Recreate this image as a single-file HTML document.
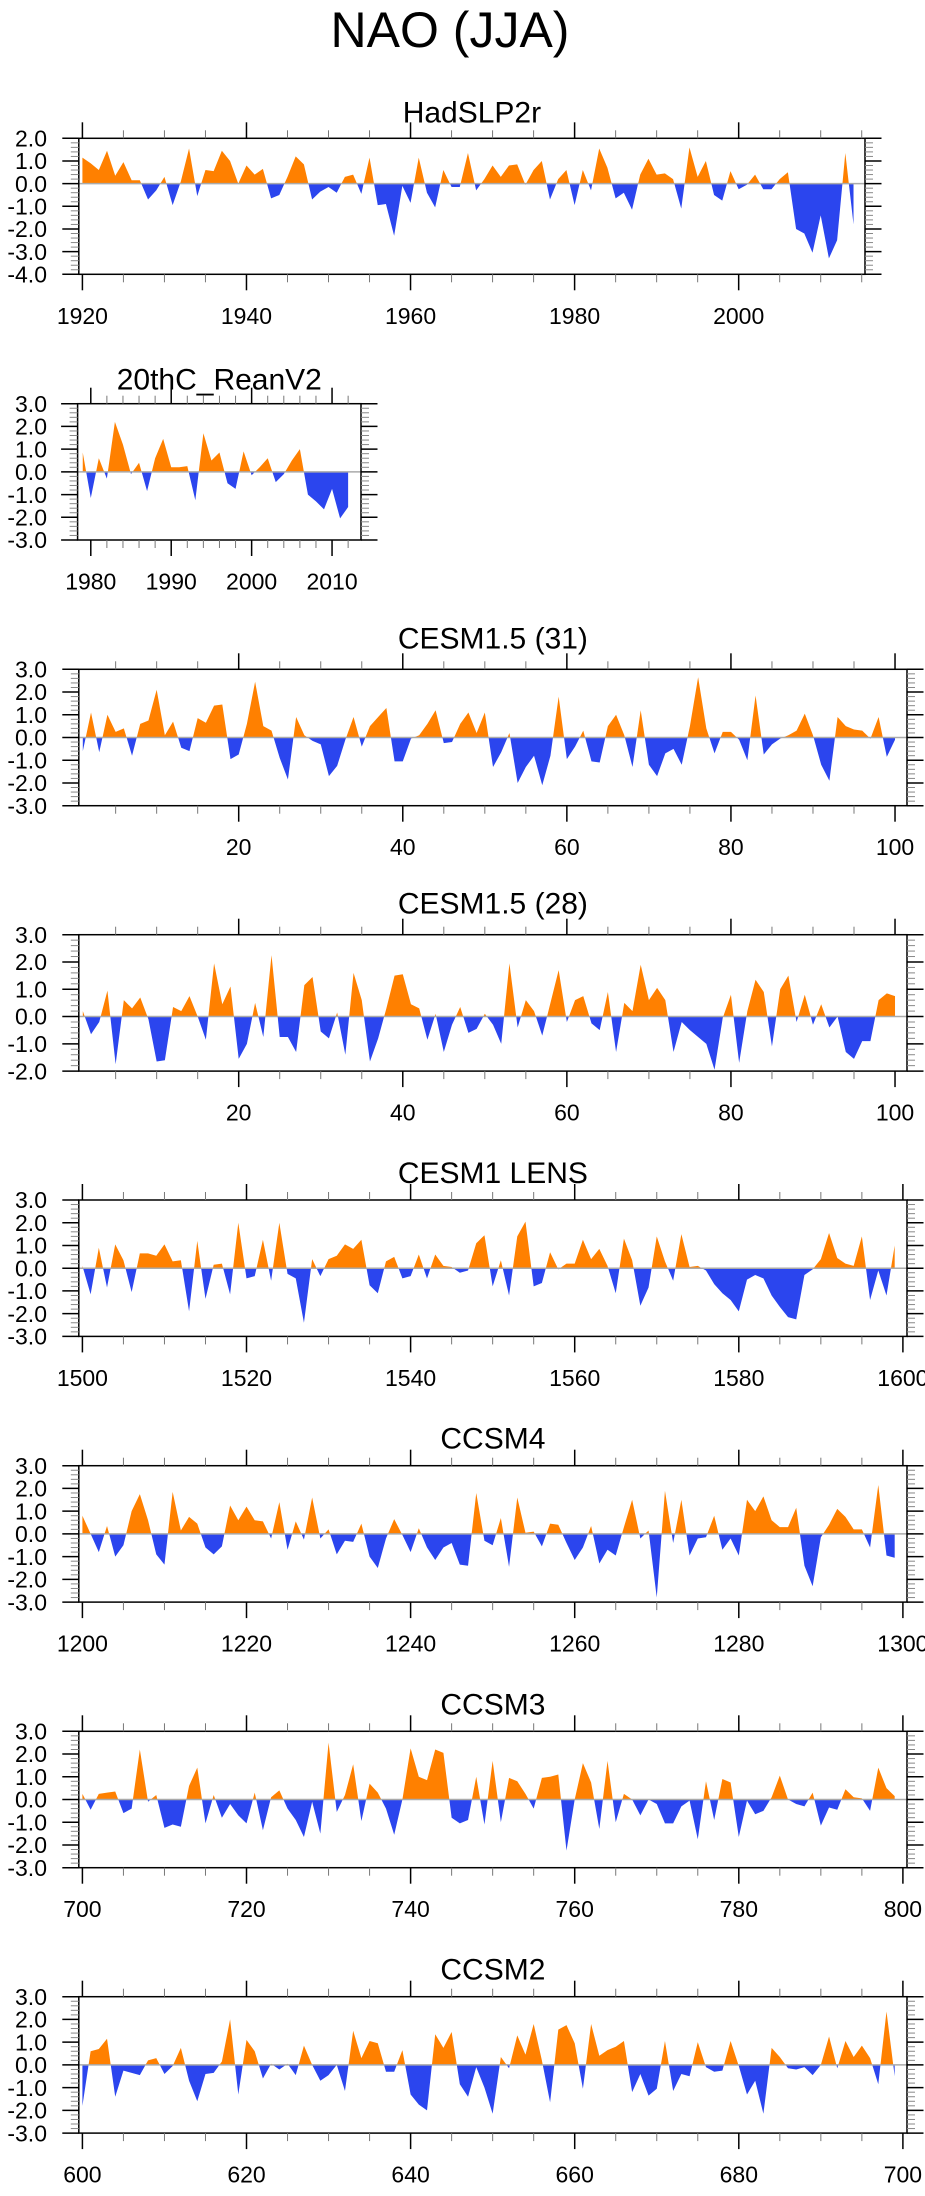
<!DOCTYPE html>
<html><head><meta charset="utf-8"><style>
html,body{margin:0;padding:0;background:#fff;}
svg text{font-family:"Liberation Sans",sans-serif;fill:#000;}
</style></head><body>
<svg id="fig" width="925" height="2191" viewBox="0 0 925 2191" xmlns="http://www.w3.org/2000/svg">
<text x="450" y="47" font-size="50" text-anchor="middle">NAO (JJA)</text>
</svg>
<script>
// ---- data ----
const hadYears0 = 1920;
const hadVals = [1.15,0.9,0.6,1.45,0.35,0.95,0.15,0.15,-0.7,-0.3,
0.3,-0.95,0.1,1.55,-0.55,0.6,0.55,1.45,1.0,0.0,
0.8,0.4,0.65,-0.65,-0.5,0.3,1.2,0.85,-0.7,-0.35,
-0.15,-0.4,0.3,0.4,-0.45,1.15,-0.95,-0.9,-2.3,-0.1,
-0.85,1.15,-0.4,-1.05,0.6,-0.15,-0.15,1.35,-0.3,0.2,
0.8,0.3,0.8,0.85,-0.05,0.6,1.0,-0.7,0.2,0.6,
-0.95,0.6,-0.3,1.55,0.7,-0.65,-0.4,-1.15,0.4,1.1,
0.4,0.45,0.2,-1.1,1.6,0.3,1.0,-0.5,-0.75,0.55,
-0.25,-0.05,0.4,-0.25,-0.25,0.2,0.5,-2.0,-2.2,-3.05,
-1.4,-3.3,-2.5,1.35,-1.8];
const reanYears0 = 1979;
const reanVals = [0.85,-1.15,0.6,-0.3,2.2,1.2,-0.1,0.4,-0.85,0.6,1.45,0.2,0.2,0.25,-1.25,1.7,0.5,0.85,-0.5,-0.75,0.9,-0.15,0.2,0.6,-0.45,-0.1,0.5,1.0,-1.0,-1.3,-1.65,-0.75,-2.05,-1.55];
const cesm31Start = 1;
const cesm31Vals = [-0.6,1.1,-0.65,1.0,0.25,0.4,-0.8,0.6,0.75,2.1,
0.1,0.7,-0.45,-0.6,0.85,0.65,1.4,1.45,-0.95,-0.75,
0.6,2.45,0.5,0.3,-0.9,-1.85,0.9,0.1,-0.15,-0.3,
-1.7,-1.25,-0.1,0.9,-0.4,0.5,0.9,1.3,-1.05,-1.05,
-0.05,0.1,0.6,1.2,-0.25,-0.2,0.6,1.1,0.2,1.1,
-1.3,-0.65,0.2,-2.0,-1.3,-0.8,-2.1,-0.8,1.8,-0.95,
-0.4,0.3,-1.05,-1.1,0.5,1.0,0.1,-1.3,1.2,-1.2,
-1.7,-0.7,-0.5,-1.2,0.5,2.65,0.4,-0.7,0.25,0.25,
-0.1,-1.0,1.85,-0.75,-0.3,-0.05,0.1,0.3,1.05,0.1,
-1.2,-1.9,0.9,0.5,0.35,0.3,-0.05,0.9,-0.85,-0.1];
const cesm28Start = 1;
const cesm28Vals = [0.2,-0.65,-0.2,0.95,-1.75,0.6,0.3,0.7,-0.1,-1.65,
-1.6,0.35,0.2,0.75,0.0,-0.85,1.95,0.45,1.1,-1.55,
-1.0,0.5,-0.75,2.25,-0.75,-0.75,-1.3,1.15,1.45,-0.55,
-0.8,0.15,-1.4,1.6,0.6,-1.65,-0.8,0.3,1.5,1.55,
0.45,0.3,-0.85,0.1,-1.3,-0.3,0.35,-0.6,-0.45,0.1,
-0.3,-1.0,1.95,-0.4,0.6,0.2,-0.7,0.5,1.7,-0.2,
0.6,0.75,-0.25,-0.5,0.9,-1.3,0.5,0.2,1.9,0.6,
1.05,0.6,-1.3,-0.2,-0.5,-0.75,-1.0,-1.95,-0.05,0.8,
-1.7,0.2,1.35,0.9,-1.1,1.0,1.5,-0.2,0.8,-0.3,
0.45,-0.4,0.0,-1.3,-1.55,-0.9,-0.9,0.6,0.85,0.75];
const lensStart = 1500;
const lensVals = [0.1,-1.15,0.9,-0.85,1.05,0.35,-1.05,0.65,0.65,0.55,
1.05,0.3,0.35,-1.9,1.2,-1.35,0.15,0.2,-1.15,2.0,
-0.45,-0.35,1.25,-0.55,2.0,-0.25,-0.45,-2.4,0.4,-0.35,
0.4,0.55,1.05,0.85,1.25,-0.75,-1.1,0.3,0.5,-0.45,
-0.35,0.6,-0.45,0.6,0.1,0.05,-0.2,-0.1,1.1,1.45,
-0.8,0.35,-1.2,1.4,2.05,-0.8,-0.65,0.7,-0.05,0.2,
0.2,1.25,0.4,0.85,0.1,-1.1,1.3,0.35,-1.65,-0.85,
1.4,0.3,-0.55,1.5,0.05,0.1,-0.1,-0.7,-1.1,-1.4,
-1.9,-0.5,-0.3,-0.45,-1.2,-1.7,-2.15,-2.25,-0.3,-0.05,
0.4,1.55,0.45,0.2,0.1,1.4,-1.4,-0.1,-1.2,1.0];
const ccsm4Start = 1200;
const ccsm4Vals = [0.8,0.0,-0.8,0.35,-1.0,-0.5,1.0,1.75,0.6,-0.9,
-1.35,1.85,0.15,0.75,0.45,-0.6,-0.9,-0.55,1.25,0.6,
1.2,0.6,0.55,-0.2,1.4,-0.7,0.55,-0.25,1.6,-0.2,
0.2,-0.9,-0.3,-0.35,0.45,-1.0,-1.5,-0.2,0.65,-0.05,
-0.8,0.25,-0.6,-1.15,-0.6,-0.4,-1.35,-1.4,1.8,-0.3,
-0.5,0.7,-1.45,1.6,0.05,0.1,-0.55,0.45,0.4,-0.4,
-1.15,-0.6,0.35,-1.3,-0.7,-0.95,0.3,1.5,-0.2,0.15,
-2.8,1.9,-0.4,1.5,-0.95,-0.2,-0.15,0.8,-0.7,-0.2,
-0.95,1.5,1.0,1.65,0.6,0.3,0.3,1.15,-1.4,-2.3,
-0.15,0.4,1.1,0.75,0.2,0.2,-0.6,2.15,-0.95,-1.05];
const ccsm3Start = 700;
const ccsm3Vals = [0.25,-0.45,0.25,0.3,0.35,-0.6,-0.4,2.2,-0.1,0.2,
-1.25,-1.1,-1.2,0.6,1.4,-1.05,0.2,-0.8,-0.2,-0.7,
-1.05,0.3,-1.35,0.1,0.4,-0.4,-0.9,-1.65,-0.1,-1.5,
2.5,-0.55,0.2,1.55,-0.95,0.7,0.3,-0.4,-1.55,0.0,
2.25,1.0,0.85,2.2,2.05,-0.8,-1.05,-0.9,1.0,-1.1,
1.7,-1.0,0.95,0.8,0.25,-0.4,0.95,1.0,1.1,-2.25,
0.0,1.6,0.75,-1.3,1.7,-1.0,0.25,0.0,-0.7,0.0,
-0.2,-1.05,-1.05,-0.3,-0.05,-1.75,0.8,-0.9,0.9,0.75,
-1.65,-0.05,-0.65,-0.5,0.1,1.05,0.0,-0.2,-0.3,0.3,
-1.15,-0.35,-0.45,0.45,0.1,0.05,-0.5,1.4,0.5,0.15];
const ccsm2Start = 600;
const ccsm2Vals = [-1.8,0.6,0.7,1.15,-1.4,-0.25,-0.35,-0.45,0.2,0.3,
-0.4,-0.05,0.75,-0.7,-1.6,-0.4,-0.35,0.15,2.0,-1.3,
1.1,0.6,-0.6,0.05,-0.2,0.05,-0.45,0.85,0.0,-0.7,
-0.45,0.0,-1.15,1.5,0.3,1.05,0.95,-0.3,-0.3,0.65,
-1.3,-1.75,-2.0,1.35,0.75,1.45,-0.85,-1.4,-0.1,-1.0,
-2.15,0.35,-0.15,1.3,0.45,1.8,0.2,-1.65,1.55,1.75,
0.95,-1.05,1.8,0.4,0.65,0.8,1.05,-1.2,-0.4,-1.35,
-1.05,1.05,-1.15,-0.4,-0.5,1.0,-0.1,-0.3,-0.25,1.05,
-0.05,-1.3,-0.7,-2.15,0.75,0.35,-0.15,-0.2,-0.1,-0.45,
0.0,1.25,-0.15,1.05,0.35,0.85,0.3,-0.85,2.35,-0.5];

const yLabels6 = ["-4.0","-3.0","-2.0","-1.0","0.0","1.0","2.0"];
const yLabels3 = ["-3.0","-2.0","-1.0","0.0","1.0","2.0","3.0"];
const yLabels28 = ["-2.0","-1.0","0.0","1.0","2.0","3.0"];

const panels = [
 {name:"hadslp2r",title:"HadSLP2r",x0:78.8,x1:865,top:138.3,h:136,dmin:1919.56,dmax:2015.4,ymin:-4,ymax:2,start:hadYears0,vals:hadVals,yl:yLabels6,maj:[1920,1940,1960,1980,2000],minStep:5,minFrom:1920,minTo:2015,tOff:16},
 {name:"20thc-reanv2",title:"20thC_ReanV2",x0:77.6,x1:361,top:403.7,h:136.3,dmin:1978.36,dmax:2013.6,ymin:-3,ymax:3,start:reanYears0,vals:reanVals,yl:yLabels3,maj:[1980,1990,2000,2010],minStep:2,minFrom:1980,minTo:2012,tOff:14},
 {name:"cesm15-31",title:"CESM1.5 (31)",x0:78.8,x1:907,top:669.3,h:136.4,dmin:0.51,dmax:101.46,ymin:-3,ymax:3,start:cesm31Start,vals:cesm31Vals,yl:yLabels3,maj:[20,40,60,80,100],minStep:5,minFrom:5,minTo:100,tOff:21},
 {name:"cesm15-28",title:"CESM1.5 (28)",x0:78.8,x1:907,top:934.7,h:136.4,dmin:0.51,dmax:101.46,ymin:-2,ymax:3,start:cesm28Start,vals:cesm28Vals,yl:yLabels28,maj:[20,40,60,80,100],minStep:5,minFrom:5,minTo:100,tOff:21},
 {name:"cesm1-lens",title:"CESM1 LENS",x0:78.8,x1:907,top:1200,h:136.4,dmin:1499.56,dmax:1600.5,ymin:-3,ymax:3,start:lensStart,vals:lensVals,yl:yLabels3,maj:[1500,1520,1540,1560,1580,1600],minStep:5,minFrom:1500,minTo:1600,tOff:17},
 {name:"ccsm4",title:"CCSM4",x0:78.8,x1:907,top:1465.7,h:136.4,dmin:1199.56,dmax:1300.5,ymin:-3,ymax:3,start:ccsm4Start,vals:ccsm4Vals,yl:yLabels3,maj:[1200,1220,1240,1260,1280,1300],minStep:5,minFrom:1200,minTo:1300,tOff:17},
 {name:"ccsm3",title:"CCSM3",x0:78.8,x1:907,top:1731.3,h:136.4,dmin:699.56,dmax:800.5,ymin:-3,ymax:3,start:ccsm3Start,vals:ccsm3Vals,yl:yLabels3,maj:[700,720,740,760,780,800],minStep:5,minFrom:700,minTo:800,tOff:17},
 {name:"ccsm2",title:"CCSM2",x0:78.8,x1:907,top:1996.7,h:136.4,dmin:599.56,dmax:700.5,ymin:-3,ymax:3,start:ccsm2Start,vals:ccsm2Vals,yl:yLabels3,maj:[600,620,640,660,680,700],minStep:5,minFrom:600,minTo:700,tOff:17}
];

const NS="http://www.w3.org/2000/svg";
const svg=document.getElementById('fig');
function mk(tag,parent){const e=document.createElementNS(NS,tag);parent.appendChild(e);return e;}

panels.forEach((p,pi)=>{
  const g=mk('g',svg);
  
  
  const bot=p.top+p.h;
  const xs=v=>p.x0+(v-p.dmin)/(p.dmax-p.dmin)*(p.x1-p.x0);
  const ys=v=>bot-(v-p.ymin)/(p.ymax-p.ymin)*p.h;
  const y0=ys(0);
  const defs=mk('defs',g);
  const cA=mk('clipPath',defs); cA.setAttribute('id','ca'+pi);
  const rA=mk('rect',cA); rA.setAttribute('x',p.x0);rA.setAttribute('y',p.top);rA.setAttribute('width',p.x1-p.x0);rA.setAttribute('height',y0-p.top);
  const cB=mk('clipPath',defs); cB.setAttribute('id','cb'+pi);
  const rB=mk('rect',cB); rB.setAttribute('x',p.x0);rB.setAttribute('y',y0);rB.setAttribute('width',p.x1-p.x0);rB.setAttribute('height',bot-y0);
  let d='M'+xs(p.start).toFixed(2)+','+y0.toFixed(2);
  p.vals.forEach((v,i)=>{d+=' L'+xs(p.start+i).toFixed(2)+','+ys(v).toFixed(2);});
  d+=' L'+xs(p.start+p.vals.length-1).toFixed(2)+','+y0.toFixed(2)+' Z';
  const pos=mk('path',g); pos.setAttribute('d',d); pos.setAttribute('fill','#ff8000'); pos.setAttribute('clip-path','url(#ca'+pi+')');
  
  
  const neg=mk('path',g); neg.setAttribute('d',d); neg.setAttribute('fill','#2b45ee'); neg.setAttribute('clip-path','url(#cb'+pi+')');
  
  
  const zl=mk('line',g); zl.setAttribute('x1',p.x0);zl.setAttribute('x2',p.x1);zl.setAttribute('y1',y0);zl.setAttribute('y2',y0);zl.setAttribute('stroke','#aaa');zl.setAttribute('stroke-width','1.5');
  
  
  const fr=mk('rect',g); fr.setAttribute('x',p.x0);fr.setAttribute('y',p.top);fr.setAttribute('width',p.x1-p.x0);fr.setAttribute('height',p.h);fr.setAttribute('fill','none');fr.setAttribute('stroke','#000');fr.setAttribute('stroke-width','1.5');
  
  
  const tk=mk('g',g);
  
  
  for(let v=p.minFrom; v<=p.minTo; v+=p.minStep){
    if(p.maj.includes(v)) continue;
    const x=xs(v);
    [[p.top,p.top-8],[bot,bot+8]].forEach(a=>{const l=mk('line',tk);l.setAttribute('x1',x);l.setAttribute('x2',x);l.setAttribute('y1',a[0]);l.setAttribute('y2',a[1]);l.setAttribute('stroke','#777');l.setAttribute('stroke-width','1');});
  }
  p.maj.forEach(v=>{
    const x=xs(v);
    [[p.top,p.top-16],[bot,bot+16]].forEach(a=>{const l=mk('line',tk);l.setAttribute('x1',x);l.setAttribute('x2',x);l.setAttribute('y1',a[0]);l.setAttribute('y2',a[1]);l.setAttribute('stroke','#000');l.setAttribute('stroke-width','1.5');});
    const t=mk('text',g); t.setAttribute('x',x); t.setAttribute('y',bot+49.5); t.setAttribute('font-size','23'); t.setAttribute('text-anchor','middle'); t.textContent=String(v);
    
    
  });
  const ytk=mk('g',g);
  
  
  for(let k=0;k<=(p.ymax-p.ymin)*5;k++){
    const v=p.ymin+k*0.2; const y=ys(v); const major=(k%5===0);
    const len=major?16.5:8;
    [[p.x0,p.x0-len],[p.x1,p.x1+len]].forEach(a=>{const l=mk('line',ytk);l.setAttribute('x1',a[0]);l.setAttribute('x2',a[1]);l.setAttribute('y1',y);l.setAttribute('y2',y);l.setAttribute('stroke',major?'#000':'#888');l.setAttribute('stroke-width',major?'1.5':'1');});
  }
  p.yl.forEach((s,i)=>{
    const t=mk('text',g); t.setAttribute('x',47); t.setAttribute('y',ys(p.ymin+i)+8.2); t.setAttribute('font-size','23'); t.setAttribute('text-anchor','end'); t.textContent=s;
    
    
  });
  const ti=mk('text',g); ti.setAttribute('x',(p.x0+p.x1)/2); ti.setAttribute('y',p.top-p.tOff); ti.setAttribute('font-size','30'); ti.setAttribute('text-anchor','middle'); ti.textContent=p.title;
  
  
});
</script>
</body></html>
